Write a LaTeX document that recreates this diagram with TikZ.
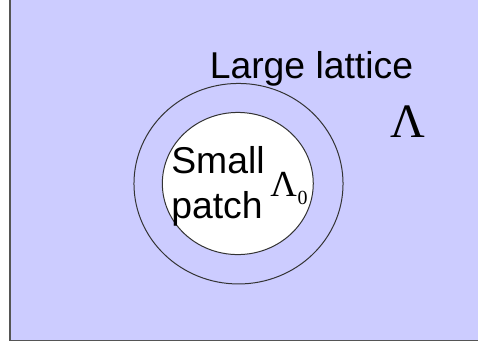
\documentclass[tikz,border=0pt]{standalone}
\usepackage{fontspec}
\setmainfont{Liberation Sans}
\newfontfamily\lamfont{Liberation Serif}
\definecolor{lattice}{RGB}{204,204,255}
\definecolor{frame}{RGB}{85,85,85}

\begin{document}
\begin{tikzpicture}[
  x=0.75pt,
  y=-0.75pt,
  word/.style={inner sep=0,anchor=base west,font=\fontsize{28}{30}\selectfont},
  sym/.style={inner sep=0,anchor=base west},
  ring/.style={draw=black!80,line width=0.75pt}
  ]


  \clip (0, 0) rectangle (478, 344);
  \draw[fill=lattice, draw=frame, line width=0.9pt] (10, -5) rectangle (490, 340.5);


  \draw[ring] (238.5, 183.7) ellipse (78.4pt and 75.2pt);
  \draw[ring, fill=white] (237.8, 183.5) ellipse (56.6pt and 53.3pt);


  \node [word] (large) at (209.5, 78) {Large lattice};
  \node [sym, font=\lamfont\fontsize{36}{38}\selectfont] (lam) at (390.5, 137) {Λ};
  \node [word] (small) at (171, 173.3) {Small};
  \node [word] (patch) at (171, 218) {patch};
  \node [sym, font=\lamfont\fontsize{27.5}{29}\selectfont] (lamzero) at (270, 196.7)
    {Λ\kern0.5pt\raisebox{-5.5pt}{\fontsize{15}{16}\selectfont 0}};


\end{tikzpicture}
\end{document}
